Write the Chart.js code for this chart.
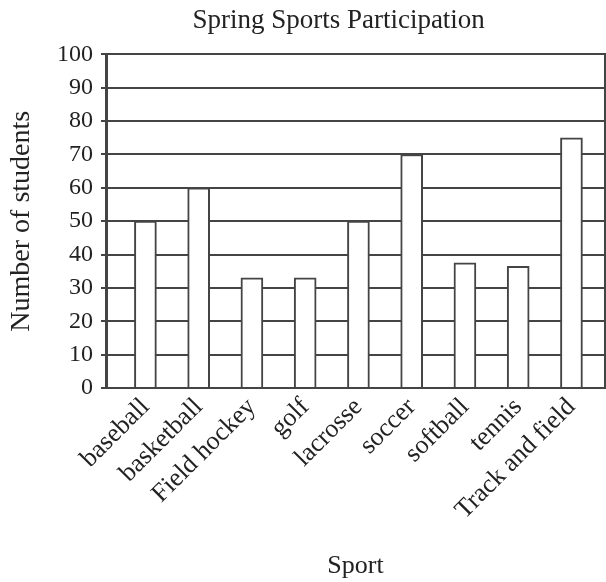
<!DOCTYPE html>
<html>
<head>
<meta charset="utf-8">
<script src="https://cdn.jsdelivr.net/npm/chart.js@4/dist/chart.umd.min.js"></script>
<style>
  html, body { margin: 0; padding: 0; background: #fff; overflow: hidden; }
  #wrap { width: 606px; height: 582px; position: relative; }
</style>
</head>
<body>
<div id="wrap"><canvas id="chart"></canvas></div>
<script>
// Chart data
const sports = ['baseball', 'basketball', 'Field hockey', 'golf', 'lacrosse', 'soccer', 'softball', 'tennis', 'Track and field'];
const students = [50, 60, 33, 33, 50, 70, 37.5, 36.5, 75];
const yTicks = [0, 10, 20, 30, 40, 50, 60, 70, 80, 90, 100];

const lineColor = '#444';
const textColor = '#222';
const serif = "'Liberation Serif', 'Times New Roman', serif";

const points = sports.map((s, i) => ({ x: i + 1, y: students[i] }));

new Chart(document.getElementById('chart').getContext('2d'), {
  type: 'bar',
  data: {
    datasets: [{
      data: points,
      backgroundColor: '#fff',
      borderColor: lineColor,
      borderWidth: 2,
      barThickness: 22
    }]
  },
  options: {
    responsive: true,
    maintainAspectRatio: false,
    animation: false,
    layout: { padding: { left: 0, right: 1, top: 0, bottom: 0 } },
    plugins: {
      legend: { display: false },
      tooltip: { enabled: false },
      title: {
        display: true,
        fullSize: false,
        // trailing spaces nudge the centred title a little left, as in the original
        text: 'Spring Sports Participation     ',
        color: textColor,
        font: { family: serif, size: 27, weight: 'normal' },
        padding: { top: 5, bottom: 17 }
      }
    },
    scales: {
      x: {
        type: 'linear',
        offset: false,
        min: 0.26,
        max: 9.63,
        grid: { offset: false, drawOnChartArea: false, drawTicks: false },
        border: { display: true, color: lineColor, width: 2 },
        ticks: {
          stepSize: 1,
          includeBounds: false,
          autoSkip: false,
          minRotation: 45,
          maxRotation: 45,
          padding: 4,
          color: textColor,
          font: { family: serif, size: 26 },
          callback: (v) => (Number.isInteger(v) && v >= 1 && v <= sports.length) ? sports[v - 1] : ''
        },
        title: {
          display: true,
          text: 'Sport',
          color: textColor,
          font: { family: serif, size: 26 },
          padding: { top: 0, bottom: 0 }
        },
        afterFit: (scale) => { scale.height = 582 - 388; }
      },
      y: {
        min: 0,
        max: 100,
        afterBuildTicks: (scale) => { scale.ticks = yTicks.map(v => ({ value: v })); },
        grid: { color: lineColor, lineWidth: 2, tickLength: 5 },
        border: { display: true, color: lineColor, width: 3 },
        ticks: {
          padding: 8,
          color: textColor,
          font: { family: serif, size: 24 }
        },
        title: {
          display: true,
          text: 'Number of students',
          color: textColor,
          font: { family: serif, size: 28 },
          padding: { top: 5, bottom: 0 }
        },
        afterFit: (scale) => { scale.width = 106; }
      },
      y2: {
        position: 'right',
        min: 0,
        max: 100,
        grid: { drawOnChartArea: false, drawTicks: false },
        border: { display: true, color: lineColor, width: 2 },
        ticks: { display: false },
        afterFit: (scale) => { scale.width = 0; }
      }
    }
  }
});
</script>
</body>
</html>
